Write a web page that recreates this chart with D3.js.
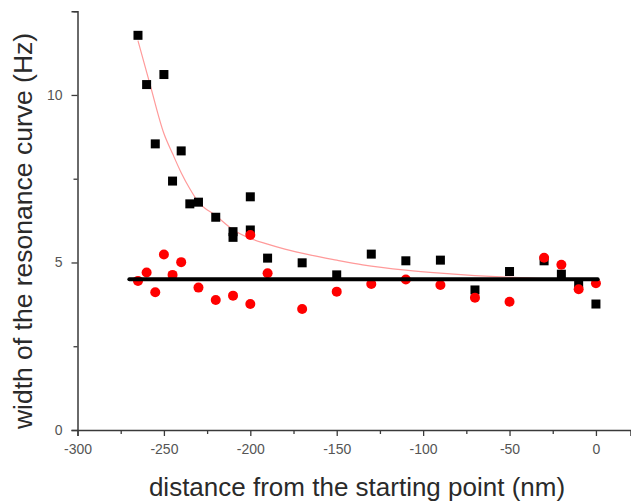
<!DOCTYPE html>
<html>
<head>
<meta charset="utf-8">
<script src="https://cdn.jsdelivr.net/npm/d3@7"></script>
<style>
  html, body { margin: 0; padding: 0; background: #fff; }
  svg { display: block; }
  .tick text { font-family: Arial, "Liberation Sans", sans-serif; }
</style>
</head>
<body>
<svg id="chart" width="631" height="501"></svg>
<script>
// ---- data ----
const blackX = [-265, -260, -255, -250, -245, -240, -235, -230, -220, -210, -210, -200, -200, -190, -170, -150, -130, -110, -90, -70, -50, -30, -20, -10, 0];
const blackY = [11.78, 10.31, 8.54, 10.61, 7.43, 8.33, 6.75, 6.80, 6.35, 5.92, 5.75, 6.96, 5.97, 5.13, 4.99, 4.63, 5.25, 5.05, 5.07, 4.18, 4.73, 5.05, 4.65, 4.38, 3.76];

const redX = [-265, -260, -255, -250, -245, -240, -230, -220, -210, -200, -200, -190, -170, -150, -130, -110, -90, -70, -50, -30, -20, -10, 0];
const redY = [4.45, 4.70, 4.11, 5.24, 4.63, 5.01, 4.25, 3.88, 4.01, 3.76, 5.82, 4.68, 3.61, 4.13, 4.36, 4.49, 4.33, 3.95, 3.83, 5.14, 4.93, 4.20, 4.38];

// fitted decay curve
const fitX = [-265, -258, -250, -245, -240, -235, -230, -220, -210, -200, -190, -180, -165, -150, -135, -110, -90, -70, -55, -30, 0];
const fitY = [11.62, 10.31, 8.85, 8.25, 7.68, 7.20, 6.80, 6.40, 5.98, 5.72, 5.55, 5.40, 5.22, 5.07, 4.93, 4.77, 4.68, 4.61, 4.57, 4.52, 4.50];

// horizontal mean line
const meanX = [-270, 1];
const meanY = [4.50, 4.50];

const xMajorTicks = [-300, -250, -200, -150, -100, -50, 0];
const xMinorTicks = [-275, -225, -175, -125, -75, -25];
const yMajorTicks = [0, 5, 10];
const yMinorTicks = [2.5, 7.5, 12.5];

const xTitle = "distance from the starting point (nm)";
const yTitle = "width of the resonance curve (Hz)";

// ---- drawing ----
const svg = d3.select("#chart");
const x = d3.scaleLinear().domain([-300, 20]).range([77.5, 630.5]);
const y = d3.scaleLinear().domain([0, 12.5]).range([430, 11.2]);

const axisColor = "#3a3a3a";
const labelColor = "#555";
const fmt = d => d3.format("d")(d).replace("\u2212", "-");

// x axis
const gx = svg.append("g").attr("transform", "translate(0,430)");
gx.call(d3.axisBottom(x).tickValues(xMajorTicks).tickSize(6).tickPadding(8).tickFormat(fmt));
gx.selectAll(".tick text").attr("fill", labelColor).attr("font-size", 14);
const gxm = gx.append("g").call(d3.axisBottom(x).tickValues(xMinorTicks).tickSize(4).tickFormat(""));
gxm.select(".domain").remove();
gx.selectAll("path.domain").attr("stroke", axisColor).attr("stroke-width", 1.5);
gx.selectAll(".tick line").attr("stroke", axisColor).attr("stroke-width", 1.3);

// y axis
const gy = svg.append("g").attr("transform", "translate(77.5,0)");
gy.call(d3.axisLeft(y).tickValues(yMajorTicks).tickSize(6).tickPadding(9).tickFormat(fmt));
gy.selectAll(".tick text").attr("fill", labelColor).attr("font-size", 14);
const gym = gy.append("g").call(d3.axisLeft(y).tickValues(yMinorTicks).tickSize(4).tickFormat(""));
gym.select(".domain").remove();
gy.selectAll("path.domain").attr("stroke", axisColor).attr("stroke-width", 1.5);
gy.selectAll(".tick line").attr("stroke", axisColor).attr("stroke-width", 1.3);

// fit curve
const fitData = fitX.map((d, i) => [d, fitY[i]]);
svg.append("path")
  .datum(fitData)
  .attr("fill", "none")
  .attr("stroke", "#ff9a9a")
  .attr("stroke-width", 1.2)
  .attr("d", d3.line().x(d => x(d[0])).y(d => y(d[1])).curve(d3.curveMonotoneX));

// black squares
const sq = 9;
svg.append("g").selectAll("rect")
  .data(blackX.map((d, i) => [d, blackY[i]]))
  .join("rect")
  .attr("x", d => x(d[0]) - sq / 2)
  .attr("y", d => y(d[1]) - sq / 2)
  .attr("width", sq).attr("height", sq)
  .attr("fill", "#000");

// red circles
svg.append("g").selectAll("circle")
  .data(redX.map((d, i) => [d, redY[i]]))
  .join("circle")
  .attr("cx", d => x(d[0]))
  .attr("cy", d => y(d[1]))
  .attr("r", 5)
  .attr("fill", "#ff0000");

// mean line
svg.append("path")
  .datum(meanX.map((d, i) => [d, meanY[i]]))
  .attr("fill", "none")
  .attr("stroke", "#000")
  .attr("stroke-width", 4)
  .attr("stroke-linecap", "round")
  .attr("d", d3.line().x(d => x(d[0])).y(d => y(d[1])));

// titles
svg.append("text")
  .attr("x", 357).attr("y", 496)
  .attr("text-anchor", "middle")
  .attr("font-family", "Arial, 'Liberation Sans', sans-serif")
  .attr("font-size", 26)
  .attr("fill", "#2a2a2a")
  .text(xTitle);

svg.append("text")
  .attr("transform", "translate(32,231) rotate(-90)")
  .attr("text-anchor", "middle")
  .attr("font-family", "Arial, 'Liberation Sans', sans-serif")
  .attr("font-size", 26.5)
  .attr("fill", "#2a2a2a")
  .text(yTitle);
</script>
</body>
</html>
